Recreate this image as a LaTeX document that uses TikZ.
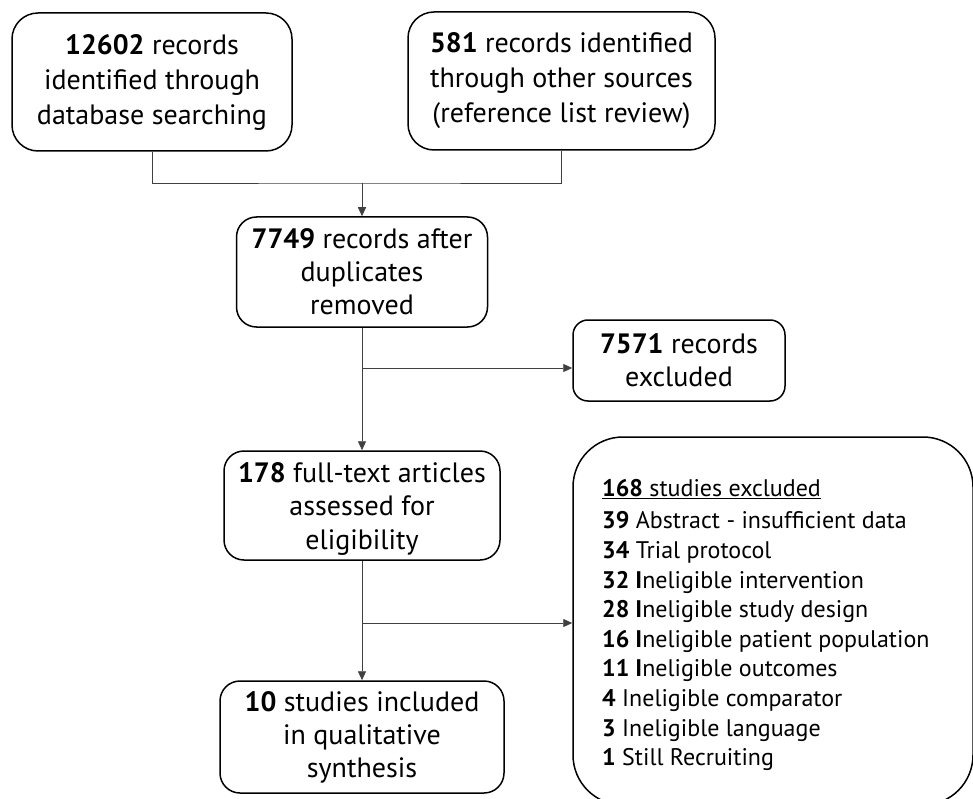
\documentclass[tikz,border=0pt]{standalone}
\usepackage{fontspec}
\setmainfont{PT Sans}
\usetikzlibrary{arrows.meta,calc}
\begin{document}
\begin{tikzpicture}[x=1pt,y=-1pt,
  box/.style={draw=black,line width=1.5pt,rounded corners=#1,align=center,inner sep=0pt,
    font=\fontsize{28}{35}\selectfont},
  box/.default=20pt,
  conn/.style={draw=black!75,line width=0.9pt},
  arr/.style={conn,-{Triangle[length=9pt,width=8pt]}}]
\useasboundingbox (0,0) rectangle (973,799);
\clip (0,0) rectangle (973,799);
\node[box=26pt,minimum width=280pt,minimum height=138pt] (A) at (152,82)
  {\textbf{12602} records\\identified through\\database searching};
\node[box=26pt,minimum width=307pt,minimum height=138pt] (B) at (561.5,81)
  {\textbf{581} records identified\\through other sources\\(reference list review)};
\node[box,minimum width=251pt,minimum height=110pt,font=\fontsize{28}{33}\selectfont] (C) at (362,272)
  {\textbf{7749} records after\\duplicates\\removed};
\node[box=15pt,minimum width=212pt,minimum height=81pt,font=\fontsize{28}{33}\selectfont] (E) at (679,360.5)
  {\textbf{7571} records\\excluded};
\node[box,minimum width=276pt,minimum height=109pt,font=\fontsize{28}{33.5}\selectfont] (D) at (362,505.5)
  {\rule{0pt}{26pt}\textbf{178} full-text articles\\assessed for\\eligibility};
\node[box,minimum width=284pt,minimum height=112pt,font=\fontsize{28}{33}\selectfont] (F) at (362,737)
  {\textbf{10} studies included\\in qualitative\\synthesis};
\node[draw=black,line width=1.5pt,rounded corners=50pt,minimum width=400pt,minimum height=368pt,inner sep=0pt] (G) at (773,621) {};
\node[anchor=north west,align=left,inner sep=0pt,font=\fontsize{24}{29.6}\selectfont] (Gt) at (602,479)
  {\underline{\textbf{168} studies excluded}\\[3pt]
   \textbf{39} Abstract - insufficient data\\
   \textbf{34} Trial protocol\\
   \textbf{32 I}neligible intervention\\
   \textbf{28 I}neligible study design\\
   \textbf{16 I}neligible patient population\\
   \textbf{11 I}neligible outcomes\\
   \textbf{4} Ineligible comparator\\
   \textbf{3} Ineligible language\\
   \textbf{1} Still Recruiting};
\coordinate (j1) at (362,183);
\coordinate (j2) at (362,368);
\coordinate (j3) at (362,623);
\draw[conn] (A.south) |- (j1) -| (B.south);
\draw[arr] (j1) -- (C.north);
\draw[arr] (C.south) -- (D.north);
\draw[arr] (j2) -- (j2 -| E.west);
\draw[arr] (D.south) -- (F.north);
\draw[arr] (j3) -- (j3 -| G.west);
\end{tikzpicture}
\end{document}
